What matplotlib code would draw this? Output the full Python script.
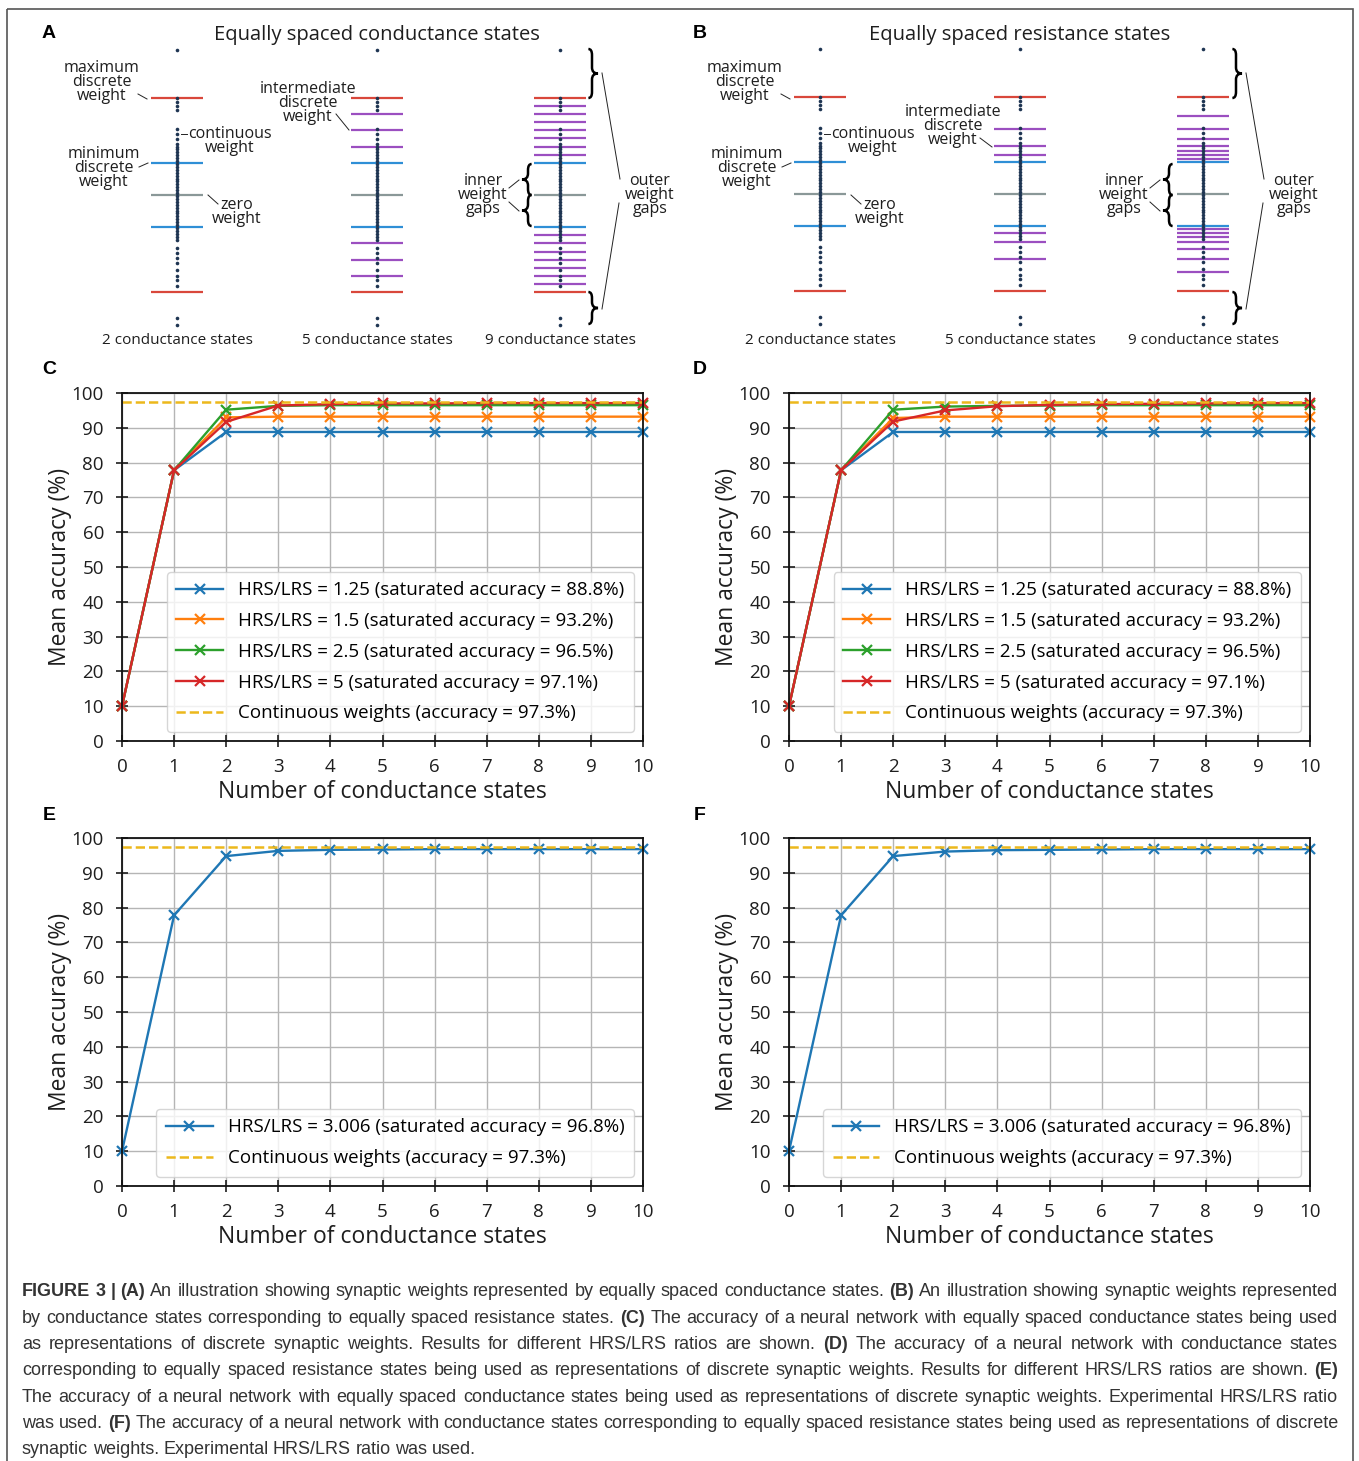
import matplotlib
matplotlib.use("Agg")
import matplotlib.pyplot as plt
from matplotlib.path import Path
from matplotlib.patches import PathPatch, Rectangle

plt.rcParams['font.family'] = ['Open Sans', 'DejaVu Sans']

W, H = 1359, 1461

# ---- data ----
x_states = [0, 1, 2, 3, 4, 5, 6, 7, 8, 9, 10]

c_hrs125 = [10, 77.8, 88.8, 88.8, 88.8, 88.8, 88.8, 88.8, 88.8, 88.8, 88.8]
c_hrs15 = [10, 77.8, 93.0, 93.2, 93.2, 93.2, 93.2, 93.2, 93.2, 93.2, 93.2]
c_hrs25 = [10, 77.8, 95.2, 96.3, 96.5, 96.5, 96.5, 96.5, 96.5, 96.5, 96.5]
c_hrs5 = [10, 77.8, 91.7, 96.4, 96.8, 97.0, 97.0, 97.1, 97.1, 97.1, 97.1]

d_hrs125 = [10, 77.8, 88.8, 88.8, 88.8, 88.8, 88.8, 88.8, 88.8, 88.8, 88.8]
d_hrs15 = [10, 77.8, 92.8, 93.2, 93.2, 93.2, 93.2, 93.2, 93.2, 93.2, 93.2]
d_hrs25 = [10, 77.8, 95.2, 96.1, 96.3, 96.4, 96.5, 96.5, 96.5, 96.5, 96.5]
d_hrs5 = [10, 77.8, 91.8, 95.0, 96.2, 96.6, 96.8, 96.9, 97.0, 97.1, 97.1]

e_exp = [10, 77.8, 94.8, 96.3, 96.6, 96.7, 96.8, 96.8, 96.8, 96.8, 96.8]
f_exp = [10, 77.8, 94.8, 96.1, 96.5, 96.6, 96.7, 96.8, 96.8, 96.8, 96.8]

continuous_acc = 97.3

ratio_labels = [
    "HRS/LRS = 1.25 (saturated accuracy = 88.8%)",
    "HRS/LRS = 1.5 (saturated accuracy = 93.2%)",
    "HRS/LRS = 2.5 (saturated accuracy = 96.5%)",
    "HRS/LRS = 5 (saturated accuracy = 97.1%)",
]
exp_label = "HRS/LRS = 3.006 (saturated accuracy = 96.8%)"
cont_label = "Continuous weights (accuracy = 97.3%)"

# discrete weight levels (positive half, normalised so max = 1)
cond_states_2 = [0.333, 1.0]
cond_states_5 = [0.333, 0.5, 0.667, 0.833, 1.0]
cond_states_9 = [0.333, 0.417, 0.5, 0.583, 0.667, 0.75, 0.833, 0.917, 1.0]
res_states_2 = [0.333, 1.0]
res_states_5 = [0.333, 0.4, 0.5, 0.667, 1.0]
res_states_9 = [0.333, 0.364, 0.4, 0.444, 0.5, 0.571, 0.667, 0.8, 1.0]

# continuous weights drawn as dots
weight_dots = [1.50, 1.00, 0.96, 0.92, 0.88, 0.68, 0.63, 0.58,
               0.53, 0.50, 0.47, 0.44, 0.41, 0.38, 0.35, 0.32, 0.29, 0.26,
               0.23, 0.20, 0.17, 0.14, 0.11, 0.08, 0.05, 0.02, -0.01, -0.04,
               -0.07, -0.10, -0.13, -0.16, -0.19, -0.22, -0.25, -0.28, -0.31,
               -0.34, -0.37, -0.40, -0.43, -0.46,
               -0.55, -0.60, -0.65, -0.70, -0.77, -0.83, -0.88, -0.94,
               -1.27, -1.34]

caption = [
    [("FIGURE 3 | (A)", True), ("An illustration showing synaptic weights represented by equally spaced conductance states.", False),
     ("(B)", True), ("An illustration showing synaptic weights represented", False)],
    [("by conductance states corresponding to equally spaced resistance states.", False), ("(C)", True),
     ("The accuracy of a neural network with equally spaced conductance states being used", False)],
    [("as representations of discrete synaptic weights. Results for different HRS/LRS ratios are shown.", False),
     ("(D)", True), ("The accuracy of a neural network with conductance states", False)],
    [("corresponding to equally spaced resistance states being used as representations of discrete synaptic weights. Results for different HRS/LRS ratios are shown.", False),
     ("(E)", True)],
    [("The accuracy of a neural network with equally spaced conductance states being used as representations of discrete synaptic weights. Experimental HRS/LRS ratio", False)],
    [("was used.", False), ("(F)", True),
     ("The accuracy of a neural network with conductance states corresponding to equally spaced resistance states being used as representations of discrete", False)],
    [("synaptic weights. Experimental HRS/LRS ratio was used.", False)],
]

line_colors = ['#1f77b4', '#ff7f0e', '#2ca02c', '#d62728']
yellow = '#ecb81c'
red_c, blue_c, purple_c, gray_c = '#d9473b', '#2f8fd6', '#9b4fc0', '#8a9898'
dot_c = '#1e3552'
ink = '#1e1e1e'


def rect(x0, y0, x1, y1):
    return [x0 / W, 1 - y1 / H, (x1 - x0) / W, (y1 - y0) / H]


fig = plt.figure(figsize=(W / 100, H / 100), dpi=100)

ov = fig.add_axes([0, 0, 1, 1])
ov.set_xlim(0, W)
ov.set_ylim(H, 0)
ov.axis('off')
ov.add_patch(Rectangle((7, 9), 1346, 1460, fill=False, ec='#555555', lw=1.2))


def brace(x, y0, y1, w):
    ym = (y0 + y1) / 2
    q = min(6, (y1 - y0) / 4)
    verts = [(x - 0.6 * w, y0), (x, y0), (x, y0 + q), (x, ym - q), (x, ym), (x + w, ym),
             (x, ym), (x, ym + q), (x, y1 - q), (x, y1), (x - 0.6 * w, y1)]
    codes = [Path.MOVETO, Path.CURVE3, Path.CURVE3, Path.LINETO, Path.CURVE3, Path.CURVE3,
             Path.CURVE3, Path.CURVE3, Path.LINETO, Path.CURVE3, Path.CURVE3]
    ov.add_patch(PathPatch(Path(verts, codes), fill=False, lw=1.8, ec='black'))


def leader(x0, y0, x1, y1):
    ov.plot([x0, x1], [y0, y1], color='#222222', lw=0.7)


def note(x, y, s, size=11.5):
    ov.text(x, y, s, ha='center', va='center', fontsize=size, linespacing=0.85, color=ink)


def draw_states(ax, cx, states):
    for s in states:
        if s == max(states):
            c = red_c
        elif s == min(states):
            c = blue_c
        else:
            c = purple_c
        ax.hlines([s, -s], cx - 26, cx + 26, color=c, lw=1.6)
    ax.hlines(0, cx - 26, cx + 26, color=gray_c, lw=1.6)
    ax.plot([cx] * len(weight_dots), weight_dots, 'o', ms=2.6, color=dot_c, mec='none', zorder=3)


# ---- panel A ----
sa = fig.add_axes(rect(20, 40, 680, 350))
sa.set_xlim(20, 680)
sa.set_ylim(-1.598, 1.598)
sa.axis('off')
for cx, st in zip([177, 377, 560], [cond_states_2, cond_states_5, cond_states_9]):
    draw_states(sa, cx, st)

# ---- panel B ----
sb = fig.add_axes(rect(680, 39, 1340, 349))
sb.set_xlim(680, 1340)
sb.set_ylim(-1.598, 1.598)
sb.axis('off')
for cx, st in zip([820, 1020, 1203], [res_states_2, res_states_5, res_states_9]):
    draw_states(sb, cx, st)

for dx, title, cols, inner_x, outer_x, inter in [
        (0, "Equally spaced conductance states", [177, 377, 560], 528, 592, (308, 103, 336, 114, 349, 130)),
        (643, "Equally spaced resistance states", [820, 1020, 1203], 1169, 1236, (953, 126, 980, 138, 992, 147))]:
    ov.text(377 + dx, 35, title, ha='center', va='center', fontsize=14.5, color=ink)
    note(102 + dx, 82, "maximum\ndiscrete\nweight")
    leader(138 + dx, 94, 147 + dx, 99)
    note(230 + dx, 141, "continuous\nweight")
    leader(181 + dx, 134, 187 + dx, 134)
    note(104 + dx, 168, "minimum\ndiscrete\nweight")
    leader(139 + dx, 167, 148 + dx, 163)
    note(237 + dx, 212, "zero\nweight")
    leader(208 + dx, 195, 218 + dx, 204)
    note(inter[0], inter[1], "intermediate\ndiscrete\nweight")
    leader(inter[2], inter[3], inter[4], inter[5])
    note(inner_x - 45, 195, "inner\nweight\ngaps")
    leader(inner_x - 19, 188, inner_x - 9, 180)
    leader(inner_x - 19, 202, inner_x - 9, 211)
    brace(inner_x, 164, 195, -6)
    brace(inner_x, 195, 226, -6)
    brace(outer_x, 49, 98, 6)
    brace(outer_x, 292, 324, 6)
    note(outer_x + 58, 195, "outer\nweight\ngaps")
    leader(outer_x + 10, 73, outer_x + 28, 179)
    leader(outer_x + 10, 309, outer_x + 27, 203)
    for cx, lab in zip(cols, ["2 conductance states", "5 conductance states", "9 conductance states"]):
        ov.text(cx, 340, lab, ha='center', va='center', fontsize=11, color=ink)

for letter, x, y in [("A", 49, 34), ("B", 700, 34), ("C", 49, 370), ("D", 700, 370),
                     ("E", 49, 815), ("F", 700, 815)]:
    ov.text(x, y, letter, ha='center', va='center', fontsize=14, fontweight='bold',
            family=['Liberation Sans', 'DejaVu Sans'])


# ---- accuracy panels ----
def acc_panel(box, series, labels, colors):
    ax = fig.add_axes(rect(*box))
    for ys, lab, c in zip(series, labels, colors):
        ax.plot(x_states, ys, '-x', color=c, lw=1.7, ms=6.5, mew=1.6, label=lab, clip_on=False)
    ax.axhline(continuous_acc, ls='--', color=yellow, lw=1.8, label=cont_label)
    ax.set_xlim(0, 10)
    ax.set_ylim(0, 100)
    ax.set_xticks(range(0, 11))
    ax.set_yticks(range(0, 101, 10))
    ax.grid(True, color='#b5b5b5', lw=1)
    ax.set_axisbelow(True)
    ax.tick_params(direction='inout', length=8, width=1.2, labelsize=13.5, colors=ink)
    ax.tick_params(axis='x', pad=8)
    ax.tick_params(axis='y', pad=9)
    for sp in ax.spines.values():
        sp.set_linewidth(1.3)
        sp.set_color('#111111')
    ax.set_xlabel("Number of conductance states", fontsize=16.5, color=ink, labelpad=3)
    ax.set_ylabel("Mean accuracy (%)", fontsize=16.5, color=ink, labelpad=0)
    ax.legend(loc='lower right', fontsize=13.5, handlelength=2.5, handletextpad=0.8,
              labelspacing=0.68, borderpad=0.5, edgecolor='#cccccc')
    return ax


acc_panel((122, 393, 643, 741), [c_hrs125, c_hrs15, c_hrs25, c_hrs5], ratio_labels, line_colors)
acc_panel((789, 393, 1310, 741), [d_hrs125, d_hrs15, d_hrs25, d_hrs5], ratio_labels, line_colors)
acc_panel((122, 838, 643, 1186), [e_exp], [exp_label], line_colors[:1])
acc_panel((789, 838, 1310, 1186), [f_exp], [exp_label], line_colors[:1])

# ---- caption, justified word by word ----
renderer = fig.canvas.get_renderer()
cap_family = ['Liberation Sans Narrow', 'Liberation Sans']
cap_size = 13
x_left, x_right = 22, 1338
for i, segs in enumerate(caption):
    y = 1292 + i * 26.3
    words = []
    for txt, bold in segs:
        for w_ in txt.split():
            words.append((w_, bold))
    arts = []
    widths = []
    for w_, bold in words:
        t = ov.text(0, y, w_, ha='left', va='center', fontsize=cap_size, family=cap_family,
                    fontweight='bold' if bold else 'normal', color='#333333')
        arts.append(t)
        widths.append(t.get_window_extent(renderer).width)
    if i < len(caption) - 1:
        gap = (x_right - x_left - sum(widths)) / (len(words) - 1)
    else:
        gap = 4.5
    x = x_left
    for t, wd in zip(arts, widths):
        t.set_x(x)
        x += wd + gap

fig.savefig("out.png", dpi=100)
